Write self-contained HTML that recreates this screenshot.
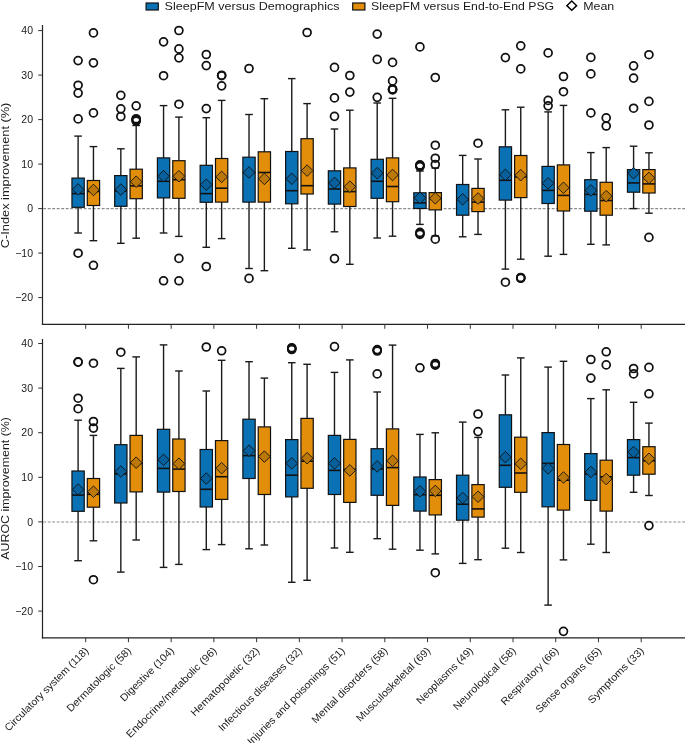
<!DOCTYPE html>
<html><head><meta charset="utf-8"><style>
html,body{margin:0;padding:0;background:#fff;}
body{width:685px;height:743px;overflow:hidden;}
svg{display:block;will-change:transform;}
text{font-family:"Liberation Sans",sans-serif;fill:#1a1a1a;}
.ax line{stroke:#222;stroke-width:1.2;}
.t{stroke:#333;stroke-width:1;}
.z{stroke:#8c8c8c;stroke-width:1.05;stroke-dasharray:2.9 1.6;}
.w{stroke:#1a1a1a;stroke-width:1.4;}
.b{stroke:#111;stroke-width:1.2;}
.m{stroke:#111;stroke-width:1.6;}
.d{stroke:#111;stroke-width:0.9;}
.o{fill:none;stroke:#111;stroke-width:1.75;}
.tl{font-size:10.5px;text-anchor:end;}
.xl{font-size:10.3px;text-anchor:end;}
.yl{font-size:11px;text-anchor:middle;}
.lg{font-size:10.8px;}
</style></head><body>
<svg width="685" height="743" viewBox="0 0 685 743">
<g class="ax">
<line x1="42.5" y1="25" x2="42.5" y2="325"/>
<line x1="41.9" y1="324.4" x2="685" y2="324.4"/>
<line x1="42.5" y1="339" x2="42.5" y2="638.4"/>
<line x1="41.9" y1="637.8" x2="685" y2="637.8"/>
</g>
<line x1="43.2" y1="208.6" x2="685" y2="208.6" class="z"/>
<line x1="43.2" y1="521.9" x2="685" y2="521.9" class="z"/>
<line x1="38.2" y1="30.6" x2="42.5" y2="30.6" class="t"/>
<text x="33" y="34.3" class="tl">40</text>
<line x1="38.2" y1="75.1" x2="42.5" y2="75.1" class="t"/>
<text x="33" y="78.8" class="tl">30</text>
<line x1="38.2" y1="119.6" x2="42.5" y2="119.6" class="t"/>
<text x="33" y="123.3" class="tl">20</text>
<line x1="38.2" y1="164.1" x2="42.5" y2="164.1" class="t"/>
<text x="33" y="167.8" class="tl">10</text>
<line x1="38.2" y1="208.6" x2="42.5" y2="208.6" class="t"/>
<text x="33" y="212.3" class="tl">0</text>
<line x1="38.2" y1="253.1" x2="42.5" y2="253.1" class="t"/>
<text x="33" y="256.8" class="tl">−10</text>
<line x1="38.2" y1="297.6" x2="42.5" y2="297.6" class="t"/>
<text x="33" y="301.3" class="tl">−20</text>
<line x1="38.2" y1="343.5" x2="42.5" y2="343.5" class="t"/>
<text x="33" y="347.2" class="tl">40</text>
<line x1="38.2" y1="388.1" x2="42.5" y2="388.1" class="t"/>
<text x="33" y="391.8" class="tl">30</text>
<line x1="38.2" y1="432.7" x2="42.5" y2="432.7" class="t"/>
<text x="33" y="436.4" class="tl">20</text>
<line x1="38.2" y1="477.3" x2="42.5" y2="477.3" class="t"/>
<text x="33" y="481" class="tl">10</text>
<line x1="38.2" y1="521.9" x2="42.5" y2="521.9" class="t"/>
<text x="33" y="525.6" class="tl">0</text>
<line x1="38.2" y1="566.5" x2="42.5" y2="566.5" class="t"/>
<text x="33" y="570.2" class="tl">−10</text>
<line x1="38.2" y1="611.1" x2="42.5" y2="611.1" class="t"/>
<text x="33" y="614.8" class="tl">−20</text>
<line x1="85.7" y1="324.4" x2="85.7" y2="328.8" class="t"/>
<line x1="85.7" y1="637.8" x2="85.7" y2="642.2" class="t"/>
<text transform="translate(89.2,651.4) rotate(-45)" class="xl" textLength="113.7" lengthAdjust="spacingAndGlyphs">Circulatory system (118)</text>
<line x1="128.43" y1="324.4" x2="128.43" y2="328.8" class="t"/>
<line x1="128.43" y1="637.8" x2="128.43" y2="642.2" class="t"/>
<text transform="translate(131.93,651.4) rotate(-45)" class="xl" textLength="86.5" lengthAdjust="spacingAndGlyphs">Dermatologic (58)</text>
<line x1="171.16" y1="324.4" x2="171.16" y2="328.8" class="t"/>
<line x1="171.16" y1="637.8" x2="171.16" y2="642.2" class="t"/>
<text transform="translate(174.66,651.4) rotate(-45)" class="xl" textLength="71.4" lengthAdjust="spacingAndGlyphs">Digestive (104)</text>
<line x1="213.89" y1="324.4" x2="213.89" y2="328.8" class="t"/>
<line x1="213.89" y1="637.8" x2="213.89" y2="642.2" class="t"/>
<text transform="translate(217.39,651.4) rotate(-45)" class="xl" textLength="123.3" lengthAdjust="spacingAndGlyphs">Endocrine/metabolic (96)</text>
<line x1="256.62" y1="324.4" x2="256.62" y2="328.8" class="t"/>
<line x1="256.62" y1="637.8" x2="256.62" y2="642.2" class="t"/>
<text transform="translate(260.12,651.4) rotate(-45)" class="xl" textLength="92.4" lengthAdjust="spacingAndGlyphs">Hematopoietic (32)</text>
<line x1="299.35" y1="324.4" x2="299.35" y2="328.8" class="t"/>
<line x1="299.35" y1="637.8" x2="299.35" y2="642.2" class="t"/>
<text transform="translate(302.85,651.4) rotate(-45)" class="xl" textLength="113.8" lengthAdjust="spacingAndGlyphs">Infectious diseases (32)</text>
<line x1="342.08" y1="324.4" x2="342.08" y2="328.8" class="t"/>
<line x1="342.08" y1="637.8" x2="342.08" y2="642.2" class="t"/>
<text transform="translate(345.58,651.4) rotate(-45)" class="xl" textLength="133.1" lengthAdjust="spacingAndGlyphs">Injuries and poisonings (51)</text>
<line x1="384.81" y1="324.4" x2="384.81" y2="328.8" class="t"/>
<line x1="384.81" y1="637.8" x2="384.81" y2="642.2" class="t"/>
<text transform="translate(388.31,651.4) rotate(-45)" class="xl" textLength="102.7" lengthAdjust="spacingAndGlyphs">Mental disorders (58)</text>
<line x1="427.54" y1="324.4" x2="427.54" y2="328.8" class="t"/>
<line x1="427.54" y1="637.8" x2="427.54" y2="642.2" class="t"/>
<text transform="translate(431.04,651.4) rotate(-45)" class="xl" textLength="100.2" lengthAdjust="spacingAndGlyphs">Musculoskeletal (69)</text>
<line x1="470.27" y1="324.4" x2="470.27" y2="328.8" class="t"/>
<line x1="470.27" y1="637.8" x2="470.27" y2="642.2" class="t"/>
<text transform="translate(473.77,651.4) rotate(-45)" class="xl" textLength="75.3" lengthAdjust="spacingAndGlyphs">Neoplasms (49)</text>
<line x1="513" y1="324.4" x2="513" y2="328.8" class="t"/>
<line x1="513" y1="637.8" x2="513" y2="642.2" class="t"/>
<text transform="translate(516.5,651.4) rotate(-45)" class="xl" textLength="83.9" lengthAdjust="spacingAndGlyphs">Neurological (58)</text>
<line x1="555.73" y1="324.4" x2="555.73" y2="328.8" class="t"/>
<line x1="555.73" y1="637.8" x2="555.73" y2="642.2" class="t"/>
<text transform="translate(559.23,651.4) rotate(-45)" class="xl" textLength="76.7" lengthAdjust="spacingAndGlyphs">Respiratory (66)</text>
<line x1="598.46" y1="324.4" x2="598.46" y2="328.8" class="t"/>
<line x1="598.46" y1="637.8" x2="598.46" y2="642.2" class="t"/>
<text transform="translate(601.96,651.4) rotate(-45)" class="xl" textLength="87.9" lengthAdjust="spacingAndGlyphs">Sense organs (65)</text>
<line x1="641.19" y1="324.4" x2="641.19" y2="328.8" class="t"/>
<line x1="641.19" y1="637.8" x2="641.19" y2="642.2" class="t"/>
<text transform="translate(644.69,651.4) rotate(-45)" class="xl" textLength="74.6" lengthAdjust="spacingAndGlyphs">Symptoms (33)</text>
<line x1="78.1" y1="136.1" x2="78.1" y2="178.1" class="w"/>
<line x1="78.1" y1="207.3" x2="78.1" y2="233" class="w"/>
<line x1="74.3" y1="136.1" x2="81.9" y2="136.1" class="w"/>
<line x1="74.3" y1="233" x2="81.9" y2="233" class="w"/>
<rect x="71.95" y="178.1" width="12.3" height="29.2" fill="#0a71b5" class="b"/>
<line x1="71.95" y1="193.6" x2="84.25" y2="193.6" class="m"/>
<path d="M78.1 183.6L83.9 189.4L78.1 195.2L72.3 189.4Z" fill="#07609c" class="d"/>
<circle cx="78.1" cy="60.6" r="3.95" class="o"/>
<circle cx="78.1" cy="85.2" r="3.95" class="o"/>
<circle cx="78.1" cy="93.1" r="3.95" class="o"/>
<circle cx="78.1" cy="118.9" r="3.95" class="o"/>
<circle cx="78.1" cy="253.2" r="3.95" class="o"/>
<line x1="93.45" y1="146.6" x2="93.45" y2="180.5" class="w"/>
<line x1="93.45" y1="205.5" x2="93.45" y2="240.7" class="w"/>
<line x1="89.65" y1="146.6" x2="97.25" y2="146.6" class="w"/>
<line x1="89.65" y1="240.7" x2="97.25" y2="240.7" class="w"/>
<rect x="87.3" y="180.5" width="12.3" height="25" fill="#e38e0b" class="b"/>
<line x1="87.3" y1="191.4" x2="99.6" y2="191.4" class="m"/>
<path d="M93.45 184.2L99.25 190L93.45 195.8L87.65 190Z" fill="#bb7808" class="d"/>
<circle cx="93.45" cy="32.9" r="3.95" class="o"/>
<circle cx="93.45" cy="62.8" r="3.95" class="o"/>
<circle cx="93.45" cy="112.9" r="3.95" class="o"/>
<circle cx="93.45" cy="265.3" r="3.95" class="o"/>
<line x1="120.83" y1="148.8" x2="120.83" y2="175.6" class="w"/>
<line x1="120.83" y1="206.3" x2="120.83" y2="243.3" class="w"/>
<line x1="117.03" y1="148.8" x2="124.63" y2="148.8" class="w"/>
<line x1="117.03" y1="243.3" x2="124.63" y2="243.3" class="w"/>
<rect x="114.68" y="175.6" width="12.3" height="30.7" fill="#0a71b5" class="b"/>
<line x1="114.68" y1="191" x2="126.98" y2="191" class="m"/>
<path d="M120.83 183.8L126.63 189.6L120.83 195.4L115.03 189.6Z" fill="#07609c" class="d"/>
<circle cx="120.83" cy="95.3" r="3.95" class="o"/>
<circle cx="120.83" cy="108.8" r="3.95" class="o"/>
<circle cx="120.83" cy="116.5" r="3.95" class="o"/>
<line x1="136.18" y1="125.5" x2="136.18" y2="169.2" class="w"/>
<line x1="136.18" y1="198.7" x2="136.18" y2="238.2" class="w"/>
<line x1="132.38" y1="125.5" x2="139.98" y2="125.5" class="w"/>
<line x1="132.38" y1="238.2" x2="139.98" y2="238.2" class="w"/>
<rect x="130.03" y="169.2" width="12.3" height="29.5" fill="#e38e0b" class="b"/>
<line x1="130.03" y1="185.9" x2="142.33" y2="185.9" class="m"/>
<path d="M136.18 175.9L141.98 181.7L136.18 187.5L130.38 181.7Z" fill="#bb7808" class="d"/>
<circle cx="136.18" cy="105.8" r="3.95" class="o"/>
<circle cx="136.18" cy="118.7" r="3.95" class="o"/>
<circle cx="136.18" cy="119.5" r="3.95" class="o"/>
<circle cx="136.18" cy="120.3" r="3.95" class="o"/>
<circle cx="136.18" cy="121" r="3.95" class="o"/>
<line x1="163.56" y1="105.6" x2="163.56" y2="157.9" class="w"/>
<line x1="163.56" y1="197.9" x2="163.56" y2="233" class="w"/>
<line x1="159.76" y1="105.6" x2="167.36" y2="105.6" class="w"/>
<line x1="159.76" y1="233" x2="167.36" y2="233" class="w"/>
<rect x="157.41" y="157.9" width="12.3" height="40" fill="#0a71b5" class="b"/>
<line x1="157.41" y1="181.3" x2="169.71" y2="181.3" class="m"/>
<path d="M163.56 170.4L169.36 176.2L163.56 182L157.76 176.2Z" fill="#07609c" class="d"/>
<circle cx="163.56" cy="41.8" r="3.95" class="o"/>
<circle cx="163.56" cy="75.7" r="3.95" class="o"/>
<circle cx="163.56" cy="280.8" r="3.95" class="o"/>
<line x1="178.91" y1="117.1" x2="178.91" y2="160.7" class="w"/>
<line x1="178.91" y1="198.3" x2="178.91" y2="236.4" class="w"/>
<line x1="175.11" y1="117.1" x2="182.71" y2="117.1" class="w"/>
<line x1="175.11" y1="236.4" x2="182.71" y2="236.4" class="w"/>
<rect x="172.76" y="160.7" width="12.3" height="37.6" fill="#e38e0b" class="b"/>
<line x1="172.76" y1="179.7" x2="185.06" y2="179.7" class="m"/>
<path d="M178.91 170.4L184.71 176.2L178.91 182L173.11 176.2Z" fill="#bb7808" class="d"/>
<circle cx="178.91" cy="30.5" r="3.95" class="o"/>
<circle cx="178.91" cy="48.9" r="3.95" class="o"/>
<circle cx="178.91" cy="57.8" r="3.95" class="o"/>
<circle cx="178.91" cy="104.2" r="3.95" class="o"/>
<circle cx="178.91" cy="258.4" r="3.95" class="o"/>
<circle cx="178.91" cy="280.8" r="3.95" class="o"/>
<line x1="206.29" y1="117.7" x2="206.29" y2="165.3" class="w"/>
<line x1="206.29" y1="202.3" x2="206.29" y2="247.3" class="w"/>
<line x1="202.49" y1="117.7" x2="210.09" y2="117.7" class="w"/>
<line x1="202.49" y1="247.3" x2="210.09" y2="247.3" class="w"/>
<rect x="200.14" y="165.3" width="12.3" height="37" fill="#0a71b5" class="b"/>
<line x1="200.14" y1="193.6" x2="212.44" y2="193.6" class="m"/>
<path d="M206.29 178.9L212.09 184.7L206.29 190.5L200.49 184.7Z" fill="#07609c" class="d"/>
<circle cx="206.29" cy="54.5" r="3.95" class="o"/>
<circle cx="206.29" cy="65.6" r="3.95" class="o"/>
<circle cx="206.29" cy="108.6" r="3.95" class="o"/>
<circle cx="206.29" cy="266.5" r="3.95" class="o"/>
<line x1="221.64" y1="100.4" x2="221.64" y2="158.5" class="w"/>
<line x1="221.64" y1="202.1" x2="221.64" y2="238.6" class="w"/>
<line x1="217.84" y1="100.4" x2="225.44" y2="100.4" class="w"/>
<line x1="217.84" y1="238.6" x2="225.44" y2="238.6" class="w"/>
<rect x="215.49" y="158.5" width="12.3" height="43.6" fill="#e38e0b" class="b"/>
<line x1="215.49" y1="188.2" x2="227.79" y2="188.2" class="m"/>
<path d="M221.64 171.1L227.44 176.9L221.64 182.7L215.84 176.9Z" fill="#bb7808" class="d"/>
<circle cx="221.64" cy="75.2" r="3.95" class="o"/>
<circle cx="221.64" cy="75.7" r="3.95" class="o"/>
<circle cx="221.64" cy="85.8" r="3.95" class="o"/>
<line x1="249.02" y1="114.5" x2="249.02" y2="157.2" class="w"/>
<line x1="249.02" y1="202.1" x2="249.02" y2="268.5" class="w"/>
<line x1="245.22" y1="114.5" x2="252.82" y2="114.5" class="w"/>
<line x1="245.22" y1="268.5" x2="252.82" y2="268.5" class="w"/>
<rect x="242.87" y="157.2" width="12.3" height="44.9" fill="#0a71b5" class="b"/>
<line x1="242.87" y1="172.5" x2="255.17" y2="172.5" class="m"/>
<path d="M249.02 166.7L254.82 172.5L249.02 178.3L243.22 172.5Z" fill="#07609c" class="d"/>
<circle cx="249.02" cy="68.5" r="3.95" class="o"/>
<circle cx="249.02" cy="278.4" r="3.95" class="o"/>
<line x1="264.37" y1="98.7" x2="264.37" y2="151.8" class="w"/>
<line x1="264.37" y1="202.1" x2="264.37" y2="270.7" class="w"/>
<line x1="260.57" y1="98.7" x2="268.17" y2="98.7" class="w"/>
<line x1="260.57" y1="270.7" x2="268.17" y2="270.7" class="w"/>
<rect x="258.22" y="151.8" width="12.3" height="50.3" fill="#e38e0b" class="b"/>
<line x1="258.22" y1="172.5" x2="270.52" y2="172.5" class="m"/>
<path d="M264.37 173.1L270.17 178.9L264.37 184.7L258.57 178.9Z" fill="#bb7808" class="d"/>
<line x1="291.75" y1="78.6" x2="291.75" y2="151.5" class="w"/>
<line x1="291.75" y1="203.8" x2="291.75" y2="248.3" class="w"/>
<line x1="287.95" y1="78.6" x2="295.55" y2="78.6" class="w"/>
<line x1="287.95" y1="248.3" x2="295.55" y2="248.3" class="w"/>
<rect x="285.6" y="151.5" width="12.3" height="52.3" fill="#0a71b5" class="b"/>
<line x1="285.6" y1="190.7" x2="297.9" y2="190.7" class="m"/>
<path d="M291.75 173L297.55 178.8L291.75 184.6L285.95 178.8Z" fill="#07609c" class="d"/>
<line x1="307.1" y1="103.6" x2="307.1" y2="138.7" class="w"/>
<line x1="307.1" y1="194" x2="307.1" y2="249.9" class="w"/>
<line x1="303.3" y1="103.6" x2="310.9" y2="103.6" class="w"/>
<line x1="303.3" y1="249.9" x2="310.9" y2="249.9" class="w"/>
<rect x="300.95" y="138.7" width="12.3" height="55.3" fill="#e38e0b" class="b"/>
<line x1="300.95" y1="185.7" x2="313.25" y2="185.7" class="m"/>
<path d="M307.1 164.8L312.9 170.6L307.1 176.4L301.3 170.6Z" fill="#bb7808" class="d"/>
<circle cx="307.1" cy="32.5" r="3.95" class="o"/>
<line x1="334.48" y1="129" x2="334.48" y2="170.8" class="w"/>
<line x1="334.48" y1="204.1" x2="334.48" y2="231.8" class="w"/>
<line x1="330.68" y1="129" x2="338.28" y2="129" class="w"/>
<line x1="330.68" y1="231.8" x2="338.28" y2="231.8" class="w"/>
<rect x="328.33" y="170.8" width="12.3" height="33.3" fill="#0a71b5" class="b"/>
<line x1="328.33" y1="189" x2="340.63" y2="189" class="m"/>
<path d="M334.48 177.1L340.28 182.9L334.48 188.7L328.68 182.9Z" fill="#07609c" class="d"/>
<circle cx="334.48" cy="67.4" r="3.95" class="o"/>
<circle cx="334.48" cy="97.9" r="3.95" class="o"/>
<circle cx="334.48" cy="116.3" r="3.95" class="o"/>
<circle cx="334.48" cy="258.6" r="3.95" class="o"/>
<line x1="349.83" y1="110.2" x2="349.83" y2="167.9" class="w"/>
<line x1="349.83" y1="206.5" x2="349.83" y2="264.3" class="w"/>
<line x1="346.03" y1="110.2" x2="353.63" y2="110.2" class="w"/>
<line x1="346.03" y1="264.3" x2="353.63" y2="264.3" class="w"/>
<rect x="343.68" y="167.9" width="12.3" height="38.6" fill="#e38e0b" class="b"/>
<line x1="343.68" y1="191.6" x2="355.98" y2="191.6" class="m"/>
<path d="M349.83 180.9L355.63 186.7L349.83 192.5L344.03 186.7Z" fill="#bb7808" class="d"/>
<circle cx="349.83" cy="75.5" r="3.95" class="o"/>
<circle cx="349.83" cy="92.1" r="3.95" class="o"/>
<line x1="377.21" y1="103" x2="377.21" y2="159.3" class="w"/>
<line x1="377.21" y1="198.3" x2="377.21" y2="238" class="w"/>
<line x1="373.41" y1="103" x2="381.01" y2="103" class="w"/>
<line x1="373.41" y1="238" x2="381.01" y2="238" class="w"/>
<rect x="371.06" y="159.3" width="12.3" height="39" fill="#0a71b5" class="b"/>
<line x1="371.06" y1="181.3" x2="383.36" y2="181.3" class="m"/>
<path d="M377.21 167.4L383.01 173.2L377.21 179L371.41 173.2Z" fill="#07609c" class="d"/>
<circle cx="377.21" cy="34.1" r="3.95" class="o"/>
<circle cx="377.21" cy="59.4" r="3.95" class="o"/>
<circle cx="377.21" cy="97.3" r="3.95" class="o"/>
<line x1="392.56" y1="98.3" x2="392.56" y2="157.9" class="w"/>
<line x1="392.56" y1="201.7" x2="392.56" y2="236.2" class="w"/>
<line x1="388.76" y1="98.3" x2="396.36" y2="98.3" class="w"/>
<line x1="388.76" y1="236.2" x2="396.36" y2="236.2" class="w"/>
<rect x="386.41" y="157.9" width="12.3" height="43.8" fill="#e38e0b" class="b"/>
<line x1="386.41" y1="186.5" x2="398.71" y2="186.5" class="m"/>
<path d="M392.56 169.2L398.36 175L392.56 180.8L386.76 175Z" fill="#bb7808" class="d"/>
<circle cx="392.56" cy="62.4" r="3.95" class="o"/>
<circle cx="392.56" cy="80.9" r="3.95" class="o"/>
<circle cx="392.56" cy="88.9" r="3.95" class="o"/>
<circle cx="392.56" cy="89.4" r="3.95" class="o"/>
<circle cx="392.56" cy="89.9" r="3.95" class="o"/>
<line x1="419.94" y1="171" x2="419.94" y2="192.8" class="w"/>
<line x1="419.94" y1="208.5" x2="419.94" y2="224.4" class="w"/>
<line x1="416.14" y1="171" x2="423.74" y2="171" class="w"/>
<line x1="416.14" y1="224.4" x2="423.74" y2="224.4" class="w"/>
<rect x="413.79" y="192.8" width="12.3" height="15.7" fill="#0a71b5" class="b"/>
<line x1="413.79" y1="202.9" x2="426.09" y2="202.9" class="m"/>
<path d="M419.94 192L425.74 197.8L419.94 203.6L414.14 197.8Z" fill="#07609c" class="d"/>
<circle cx="419.94" cy="46.9" r="3.95" class="o"/>
<circle cx="419.94" cy="164.9" r="3.95" class="o"/>
<circle cx="419.94" cy="165.5" r="3.95" class="o"/>
<circle cx="419.94" cy="166" r="3.95" class="o"/>
<circle cx="419.94" cy="166.6" r="3.95" class="o"/>
<circle cx="419.94" cy="232.4" r="3.95" class="o"/>
<circle cx="419.94" cy="233.4" r="3.95" class="o"/>
<circle cx="419.94" cy="234.3" r="3.95" class="o"/>
<line x1="435.29" y1="168" x2="435.29" y2="192.6" class="w"/>
<line x1="435.29" y1="209.9" x2="435.29" y2="236" class="w"/>
<line x1="431.49" y1="168" x2="439.09" y2="168" class="w"/>
<line x1="431.49" y1="236" x2="439.09" y2="236" class="w"/>
<rect x="429.14" y="192.6" width="12.3" height="17.3" fill="#e38e0b" class="b"/>
<line x1="429.14" y1="198.5" x2="441.44" y2="198.5" class="m"/>
<path d="M435.29 192.5L441.09 198.3L435.29 204.1L429.49 198.3Z" fill="#bb7808" class="d"/>
<circle cx="435.29" cy="77.5" r="3.95" class="o"/>
<circle cx="435.29" cy="145.2" r="3.95" class="o"/>
<circle cx="435.29" cy="158.2" r="3.95" class="o"/>
<circle cx="435.29" cy="164.5" r="3.95" class="o"/>
<circle cx="435.29" cy="239.2" r="3.95" class="o"/>
<line x1="462.67" y1="155.4" x2="462.67" y2="184.5" class="w"/>
<line x1="462.67" y1="215.2" x2="462.67" y2="236.8" class="w"/>
<line x1="458.87" y1="155.4" x2="466.47" y2="155.4" class="w"/>
<line x1="458.87" y1="236.8" x2="466.47" y2="236.8" class="w"/>
<rect x="456.52" y="184.5" width="12.3" height="30.7" fill="#0a71b5" class="b"/>
<line x1="456.52" y1="199.3" x2="468.82" y2="199.3" class="m"/>
<path d="M462.67 193.5L468.47 199.3L462.67 205.1L456.87 199.3Z" fill="#07609c" class="d"/>
<line x1="478.02" y1="159" x2="478.02" y2="188.4" class="w"/>
<line x1="478.02" y1="211.6" x2="478.02" y2="234.4" class="w"/>
<line x1="474.22" y1="159" x2="481.82" y2="159" class="w"/>
<line x1="474.22" y1="234.4" x2="481.82" y2="234.4" class="w"/>
<rect x="471.87" y="188.4" width="12.3" height="23.2" fill="#e38e0b" class="b"/>
<line x1="471.87" y1="202.1" x2="484.17" y2="202.1" class="m"/>
<path d="M478.02 192.7L483.82 198.5L478.02 204.3L472.22 198.5Z" fill="#bb7808" class="d"/>
<circle cx="478.02" cy="143.2" r="3.95" class="o"/>
<line x1="505.4" y1="109.8" x2="505.4" y2="146.8" class="w"/>
<line x1="505.4" y1="200.1" x2="505.4" y2="269.1" class="w"/>
<line x1="501.6" y1="109.8" x2="509.2" y2="109.8" class="w"/>
<line x1="501.6" y1="269.1" x2="509.2" y2="269.1" class="w"/>
<rect x="499.25" y="146.8" width="12.3" height="53.3" fill="#0a71b5" class="b"/>
<line x1="499.25" y1="180.3" x2="511.55" y2="180.3" class="m"/>
<path d="M505.4 169L511.2 174.8L505.4 180.6L499.6 174.8Z" fill="#07609c" class="d"/>
<circle cx="505.4" cy="57.6" r="3.95" class="o"/>
<circle cx="505.4" cy="282.2" r="3.95" class="o"/>
<line x1="520.75" y1="107.2" x2="520.75" y2="155.5" class="w"/>
<line x1="520.75" y1="197.6" x2="520.75" y2="259.2" class="w"/>
<line x1="516.95" y1="107.2" x2="524.55" y2="107.2" class="w"/>
<line x1="516.95" y1="259.2" x2="524.55" y2="259.2" class="w"/>
<rect x="514.6" y="155.5" width="12.3" height="42.1" fill="#e38e0b" class="b"/>
<line x1="514.6" y1="176.9" x2="526.9" y2="176.9" class="m"/>
<path d="M520.75 169.4L526.55 175.2L520.75 181L514.95 175.2Z" fill="#bb7808" class="d"/>
<circle cx="520.75" cy="45.8" r="3.95" class="o"/>
<circle cx="520.75" cy="68.9" r="3.95" class="o"/>
<circle cx="520.75" cy="277.5" r="3.95" class="o"/>
<circle cx="520.75" cy="277.9" r="3.95" class="o"/>
<circle cx="520.75" cy="278.3" r="3.95" class="o"/>
<line x1="548.13" y1="111.9" x2="548.13" y2="166.4" class="w"/>
<line x1="548.13" y1="203.5" x2="548.13" y2="256.2" class="w"/>
<line x1="544.33" y1="111.9" x2="551.93" y2="111.9" class="w"/>
<line x1="544.33" y1="256.2" x2="551.93" y2="256.2" class="w"/>
<rect x="541.98" y="166.4" width="12.3" height="37.1" fill="#0a71b5" class="b"/>
<line x1="541.98" y1="190.4" x2="554.28" y2="190.4" class="m"/>
<path d="M548.13 177.5L553.93 183.3L548.13 189.1L542.33 183.3Z" fill="#07609c" class="d"/>
<circle cx="548.13" cy="52.9" r="3.95" class="o"/>
<circle cx="548.13" cy="100.4" r="3.95" class="o"/>
<circle cx="548.13" cy="105.8" r="3.95" class="o"/>
<line x1="563.48" y1="105.4" x2="563.48" y2="164.9" class="w"/>
<line x1="563.48" y1="211" x2="563.48" y2="254.4" class="w"/>
<line x1="559.68" y1="105.4" x2="567.28" y2="105.4" class="w"/>
<line x1="559.68" y1="254.4" x2="567.28" y2="254.4" class="w"/>
<rect x="557.33" y="164.9" width="12.3" height="46.1" fill="#e38e0b" class="b"/>
<line x1="557.33" y1="195.4" x2="569.63" y2="195.4" class="m"/>
<path d="M563.48 182L569.28 187.8L563.48 193.6L557.68 187.8Z" fill="#bb7808" class="d"/>
<circle cx="563.48" cy="76.5" r="3.95" class="o"/>
<circle cx="563.48" cy="91.7" r="3.95" class="o"/>
<line x1="590.86" y1="152.6" x2="590.86" y2="179.7" class="w"/>
<line x1="590.86" y1="211.2" x2="590.86" y2="244.3" class="w"/>
<line x1="587.06" y1="152.6" x2="594.66" y2="152.6" class="w"/>
<line x1="587.06" y1="244.3" x2="594.66" y2="244.3" class="w"/>
<rect x="584.71" y="179.7" width="12.3" height="31.5" fill="#0a71b5" class="b"/>
<line x1="584.71" y1="194.4" x2="597.01" y2="194.4" class="m"/>
<path d="M590.86 184.6L596.66 190.4L590.86 196.2L585.06 190.4Z" fill="#07609c" class="d"/>
<circle cx="590.86" cy="57.4" r="3.95" class="o"/>
<circle cx="590.86" cy="73.9" r="3.95" class="o"/>
<circle cx="590.86" cy="112.9" r="3.95" class="o"/>
<line x1="606.21" y1="147.6" x2="606.21" y2="182.3" class="w"/>
<line x1="606.21" y1="215.2" x2="606.21" y2="244.9" class="w"/>
<line x1="602.41" y1="147.6" x2="610.01" y2="147.6" class="w"/>
<line x1="602.41" y1="244.9" x2="610.01" y2="244.9" class="w"/>
<rect x="600.06" y="182.3" width="12.3" height="32.9" fill="#e38e0b" class="b"/>
<line x1="600.06" y1="200.5" x2="612.36" y2="200.5" class="m"/>
<path d="M606.21 190.4L612.01 196.2L606.21 202L600.41 196.2Z" fill="#bb7808" class="d"/>
<circle cx="606.21" cy="117.9" r="3.95" class="o"/>
<circle cx="606.21" cy="126" r="3.95" class="o"/>
<line x1="633.59" y1="146.2" x2="633.59" y2="169.6" class="w"/>
<line x1="633.59" y1="192.2" x2="633.59" y2="208.6" class="w"/>
<line x1="629.79" y1="146.2" x2="637.39" y2="146.2" class="w"/>
<line x1="629.79" y1="208.6" x2="637.39" y2="208.6" class="w"/>
<rect x="627.44" y="169.6" width="12.3" height="22.6" fill="#0a71b5" class="b"/>
<line x1="627.44" y1="182.9" x2="639.74" y2="182.9" class="m"/>
<path d="M633.59 167.4L639.39 173.2L633.59 179L627.79 173.2Z" fill="#07609c" class="d"/>
<circle cx="633.59" cy="65.8" r="3.95" class="o"/>
<circle cx="633.59" cy="78.1" r="3.95" class="o"/>
<circle cx="633.59" cy="108.2" r="3.95" class="o"/>
<line x1="648.94" y1="152.8" x2="648.94" y2="169.6" class="w"/>
<line x1="648.94" y1="193" x2="648.94" y2="213.2" class="w"/>
<line x1="645.14" y1="152.8" x2="652.74" y2="152.8" class="w"/>
<line x1="645.14" y1="213.2" x2="652.74" y2="213.2" class="w"/>
<rect x="642.79" y="169.6" width="12.3" height="23.4" fill="#e38e0b" class="b"/>
<line x1="642.79" y1="183.9" x2="655.09" y2="183.9" class="m"/>
<path d="M648.94 172.1L654.74 177.9L648.94 183.7L643.14 177.9Z" fill="#bb7808" class="d"/>
<circle cx="648.94" cy="54.7" r="3.95" class="o"/>
<circle cx="648.94" cy="101.4" r="3.95" class="o"/>
<circle cx="648.94" cy="125" r="3.95" class="o"/>
<circle cx="648.94" cy="237.4" r="3.95" class="o"/>
<line x1="78.1" y1="420.2" x2="78.1" y2="471" class="w"/>
<line x1="78.1" y1="511.3" x2="78.1" y2="560.7" class="w"/>
<line x1="74.3" y1="420.2" x2="81.9" y2="420.2" class="w"/>
<line x1="74.3" y1="560.7" x2="81.9" y2="560.7" class="w"/>
<rect x="71.95" y="471" width="12.3" height="40.3" fill="#0a71b5" class="b"/>
<line x1="71.95" y1="495.1" x2="84.25" y2="495.1" class="m"/>
<path d="M78.1 483.7L83.9 489.5L78.1 495.3L72.3 489.5Z" fill="#07609c" class="d"/>
<circle cx="78.1" cy="361.9" r="3.95" class="o"/>
<circle cx="78.1" cy="362.1" r="3.95" class="o"/>
<circle cx="78.1" cy="398.2" r="3.95" class="o"/>
<circle cx="78.1" cy="408.7" r="3.95" class="o"/>
<line x1="93.45" y1="435.4" x2="93.45" y2="478.5" class="w"/>
<line x1="93.45" y1="507.2" x2="93.45" y2="540.8" class="w"/>
<line x1="89.65" y1="435.4" x2="97.25" y2="435.4" class="w"/>
<line x1="89.65" y1="540.8" x2="97.25" y2="540.8" class="w"/>
<rect x="87.3" y="478.5" width="12.3" height="28.7" fill="#e38e0b" class="b"/>
<line x1="87.3" y1="494.3" x2="99.6" y2="494.3" class="m"/>
<path d="M93.45 485.9L99.25 491.7L93.45 497.5L87.65 491.7Z" fill="#bb7808" class="d"/>
<circle cx="93.45" cy="363.2" r="3.95" class="o"/>
<circle cx="93.45" cy="421.5" r="3.95" class="o"/>
<circle cx="93.45" cy="428.1" r="3.95" class="o"/>
<circle cx="93.45" cy="579.7" r="3.95" class="o"/>
<line x1="120.83" y1="368.4" x2="120.83" y2="444.7" class="w"/>
<line x1="120.83" y1="503" x2="120.83" y2="572.1" class="w"/>
<line x1="117.03" y1="368.4" x2="124.63" y2="368.4" class="w"/>
<line x1="117.03" y1="572.1" x2="124.63" y2="572.1" class="w"/>
<rect x="114.68" y="444.7" width="12.3" height="58.3" fill="#0a71b5" class="b"/>
<line x1="114.68" y1="474" x2="126.98" y2="474" class="m"/>
<path d="M120.83 465.7L126.63 471.5L120.83 477.3L115.03 471.5Z" fill="#07609c" class="d"/>
<circle cx="120.83" cy="352.2" r="3.95" class="o"/>
<line x1="136.18" y1="356.9" x2="136.18" y2="435.4" class="w"/>
<line x1="136.18" y1="491.9" x2="136.18" y2="540" class="w"/>
<line x1="132.38" y1="356.9" x2="139.98" y2="356.9" class="w"/>
<line x1="132.38" y1="540" x2="139.98" y2="540" class="w"/>
<rect x="130.03" y="435.4" width="12.3" height="56.5" fill="#e38e0b" class="b"/>
<line x1="130.03" y1="463.4" x2="142.33" y2="463.4" class="m"/>
<path d="M136.18 456.9L141.98 462.7L136.18 468.5L130.38 462.7Z" fill="#bb7808" class="d"/>
<line x1="163.56" y1="344.9" x2="163.56" y2="429.3" class="w"/>
<line x1="163.56" y1="492.1" x2="163.56" y2="567.4" class="w"/>
<line x1="159.76" y1="344.9" x2="167.36" y2="344.9" class="w"/>
<line x1="159.76" y1="567.4" x2="167.36" y2="567.4" class="w"/>
<rect x="157.41" y="429.3" width="12.3" height="62.8" fill="#0a71b5" class="b"/>
<line x1="157.41" y1="468.4" x2="169.71" y2="468.4" class="m"/>
<path d="M163.56 454L169.36 459.8L163.56 465.6L157.76 459.8Z" fill="#07609c" class="d"/>
<line x1="178.91" y1="371" x2="178.91" y2="439" class="w"/>
<line x1="178.91" y1="491.5" x2="178.91" y2="564.4" class="w"/>
<line x1="175.11" y1="371" x2="182.71" y2="371" class="w"/>
<line x1="175.11" y1="564.4" x2="182.71" y2="564.4" class="w"/>
<rect x="172.76" y="439" width="12.3" height="52.5" fill="#e38e0b" class="b"/>
<line x1="172.76" y1="469.1" x2="185.06" y2="469.1" class="m"/>
<path d="M178.91 457.9L184.71 463.7L178.91 469.5L173.11 463.7Z" fill="#bb7808" class="d"/>
<line x1="206.29" y1="391" x2="206.29" y2="449.5" class="w"/>
<line x1="206.29" y1="507" x2="206.29" y2="549.6" class="w"/>
<line x1="202.49" y1="391" x2="210.09" y2="391" class="w"/>
<line x1="202.49" y1="549.6" x2="210.09" y2="549.6" class="w"/>
<rect x="200.14" y="449.5" width="12.3" height="57.5" fill="#0a71b5" class="b"/>
<line x1="200.14" y1="489.3" x2="212.44" y2="489.3" class="m"/>
<path d="M206.29 472.7L212.09 478.5L206.29 484.3L200.49 478.5Z" fill="#07609c" class="d"/>
<circle cx="206.29" cy="347" r="3.95" class="o"/>
<line x1="221.64" y1="360.3" x2="221.64" y2="440.6" class="w"/>
<line x1="221.64" y1="499.4" x2="221.64" y2="544.6" class="w"/>
<line x1="217.84" y1="360.3" x2="225.44" y2="360.3" class="w"/>
<line x1="217.84" y1="544.6" x2="225.44" y2="544.6" class="w"/>
<rect x="215.49" y="440.6" width="12.3" height="58.8" fill="#e38e0b" class="b"/>
<line x1="215.49" y1="476.7" x2="227.79" y2="476.7" class="m"/>
<path d="M221.64 462.4L227.44 468.2L221.64 474L215.84 468.2Z" fill="#bb7808" class="d"/>
<circle cx="221.64" cy="350.8" r="3.95" class="o"/>
<line x1="249.02" y1="361.7" x2="249.02" y2="419.2" class="w"/>
<line x1="249.02" y1="478.5" x2="249.02" y2="548.8" class="w"/>
<line x1="245.22" y1="361.7" x2="252.82" y2="361.7" class="w"/>
<line x1="245.22" y1="548.8" x2="252.82" y2="548.8" class="w"/>
<rect x="242.87" y="419.2" width="12.3" height="59.3" fill="#0a71b5" class="b"/>
<line x1="242.87" y1="455.6" x2="255.17" y2="455.6" class="m"/>
<path d="M249.02 444.9L254.82 450.7L249.02 456.5L243.22 450.7Z" fill="#07609c" class="d"/>
<line x1="264.37" y1="378.1" x2="264.37" y2="426.9" class="w"/>
<line x1="264.37" y1="494.5" x2="264.37" y2="545" class="w"/>
<line x1="260.57" y1="378.1" x2="268.17" y2="378.1" class="w"/>
<line x1="260.57" y1="545" x2="268.17" y2="545" class="w"/>
<rect x="258.22" y="426.9" width="12.3" height="67.6" fill="#e38e0b" class="b"/>
<line x1="258.22" y1="456.6" x2="270.52" y2="456.6" class="m"/>
<path d="M264.37 450.8L270.17 456.6L264.37 462.4L258.57 456.6Z" fill="#bb7808" class="d"/>
<line x1="291.75" y1="362.7" x2="291.75" y2="439.6" class="w"/>
<line x1="291.75" y1="496.9" x2="291.75" y2="582.3" class="w"/>
<line x1="287.95" y1="362.7" x2="295.55" y2="362.7" class="w"/>
<line x1="287.95" y1="582.3" x2="295.55" y2="582.3" class="w"/>
<rect x="285.6" y="439.6" width="12.3" height="57.3" fill="#0a71b5" class="b"/>
<line x1="285.6" y1="475.2" x2="297.9" y2="475.2" class="m"/>
<path d="M291.75 457.5L297.55 463.3L291.75 469.1L285.95 463.3Z" fill="#07609c" class="d"/>
<circle cx="291.75" cy="347.7" r="3.95" class="o"/>
<circle cx="291.75" cy="348.3" r="3.95" class="o"/>
<circle cx="291.75" cy="348.9" r="3.95" class="o"/>
<circle cx="291.75" cy="349.5" r="3.95" class="o"/>
<line x1="307.1" y1="364.3" x2="307.1" y2="418.4" class="w"/>
<line x1="307.1" y1="488.3" x2="307.1" y2="580.3" class="w"/>
<line x1="303.3" y1="364.3" x2="310.9" y2="364.3" class="w"/>
<line x1="303.3" y1="580.3" x2="310.9" y2="580.3" class="w"/>
<rect x="300.95" y="418.4" width="12.3" height="69.9" fill="#e38e0b" class="b"/>
<line x1="300.95" y1="461.2" x2="313.25" y2="461.2" class="m"/>
<path d="M307.1 452.4L312.9 458.2L307.1 464L301.3 458.2Z" fill="#bb7808" class="d"/>
<line x1="334.48" y1="372.4" x2="334.48" y2="435.4" class="w"/>
<line x1="334.48" y1="494.5" x2="334.48" y2="548" class="w"/>
<line x1="330.68" y1="372.4" x2="338.28" y2="372.4" class="w"/>
<line x1="330.68" y1="548" x2="338.28" y2="548" class="w"/>
<rect x="328.33" y="435.4" width="12.3" height="59.1" fill="#0a71b5" class="b"/>
<line x1="328.33" y1="470.4" x2="340.63" y2="470.4" class="m"/>
<path d="M334.48 457.6L340.28 463.4L334.48 469.2L328.68 463.4Z" fill="#07609c" class="d"/>
<circle cx="334.48" cy="346.6" r="3.95" class="o"/>
<line x1="349.83" y1="359.9" x2="349.83" y2="439.4" class="w"/>
<line x1="349.83" y1="502.4" x2="349.83" y2="552.3" class="w"/>
<line x1="346.03" y1="359.9" x2="353.63" y2="359.9" class="w"/>
<line x1="346.03" y1="552.3" x2="353.63" y2="552.3" class="w"/>
<rect x="343.68" y="439.4" width="12.3" height="63" fill="#e38e0b" class="b"/>
<line x1="343.68" y1="469.5" x2="355.98" y2="469.5" class="m"/>
<path d="M349.83 464.6L355.63 470.4L349.83 476.2L344.03 470.4Z" fill="#bb7808" class="d"/>
<line x1="377.21" y1="392" x2="377.21" y2="448.7" class="w"/>
<line x1="377.21" y1="495.3" x2="377.21" y2="538.7" class="w"/>
<line x1="373.41" y1="392" x2="381.01" y2="392" class="w"/>
<line x1="373.41" y1="538.7" x2="381.01" y2="538.7" class="w"/>
<rect x="371.06" y="448.7" width="12.3" height="46.6" fill="#0a71b5" class="b"/>
<line x1="371.06" y1="469" x2="383.36" y2="469" class="m"/>
<path d="M377.21 460.6L383.01 466.4L377.21 472.2L371.41 466.4Z" fill="#07609c" class="d"/>
<circle cx="377.21" cy="349.6" r="3.95" class="o"/>
<circle cx="377.21" cy="350.3" r="3.95" class="o"/>
<circle cx="377.21" cy="351" r="3.95" class="o"/>
<circle cx="377.21" cy="373.9" r="3.95" class="o"/>
<line x1="392.56" y1="345.1" x2="392.56" y2="428.9" class="w"/>
<line x1="392.56" y1="505.4" x2="392.56" y2="549.2" class="w"/>
<line x1="388.76" y1="345.1" x2="396.36" y2="345.1" class="w"/>
<line x1="388.76" y1="549.2" x2="396.36" y2="549.2" class="w"/>
<rect x="386.41" y="428.9" width="12.3" height="76.5" fill="#e38e0b" class="b"/>
<line x1="386.41" y1="467.6" x2="398.71" y2="467.6" class="m"/>
<path d="M392.56 455L398.36 460.8L392.56 466.6L386.76 460.8Z" fill="#bb7808" class="d"/>
<line x1="419.94" y1="434.4" x2="419.94" y2="477" class="w"/>
<line x1="419.94" y1="511.1" x2="419.94" y2="550.2" class="w"/>
<line x1="416.14" y1="434.4" x2="423.74" y2="434.4" class="w"/>
<line x1="416.14" y1="550.2" x2="423.74" y2="550.2" class="w"/>
<rect x="413.79" y="477" width="12.3" height="34.1" fill="#0a71b5" class="b"/>
<line x1="413.79" y1="494.7" x2="426.09" y2="494.7" class="m"/>
<path d="M419.94 485.5L425.74 491.3L419.94 497.1L414.14 491.3Z" fill="#07609c" class="d"/>
<circle cx="419.94" cy="367.8" r="3.95" class="o"/>
<line x1="435.29" y1="432.8" x2="435.29" y2="479.6" class="w"/>
<line x1="435.29" y1="514.9" x2="435.29" y2="553.9" class="w"/>
<line x1="431.49" y1="432.8" x2="439.09" y2="432.8" class="w"/>
<line x1="431.49" y1="553.9" x2="439.09" y2="553.9" class="w"/>
<rect x="429.14" y="479.6" width="12.3" height="35.3" fill="#e38e0b" class="b"/>
<line x1="429.14" y1="495.3" x2="441.44" y2="495.3" class="m"/>
<path d="M435.29 485.1L441.09 490.9L435.29 496.7L429.49 490.9Z" fill="#bb7808" class="d"/>
<circle cx="435.29" cy="363.5" r="3.95" class="o"/>
<circle cx="435.29" cy="364.1" r="3.95" class="o"/>
<circle cx="435.29" cy="364.7" r="3.95" class="o"/>
<circle cx="435.29" cy="365.2" r="3.95" class="o"/>
<circle cx="435.29" cy="572.7" r="3.95" class="o"/>
<line x1="462.67" y1="422.1" x2="462.67" y2="475.2" class="w"/>
<line x1="462.67" y1="520.2" x2="462.67" y2="563.4" class="w"/>
<line x1="458.87" y1="422.1" x2="466.47" y2="422.1" class="w"/>
<line x1="458.87" y1="563.4" x2="466.47" y2="563.4" class="w"/>
<rect x="456.52" y="475.2" width="12.3" height="45" fill="#0a71b5" class="b"/>
<line x1="456.52" y1="504.2" x2="468.82" y2="504.2" class="m"/>
<path d="M462.67 492.2L468.47 498L462.67 503.8L456.87 498Z" fill="#07609c" class="d"/>
<line x1="478.02" y1="437.4" x2="478.02" y2="484.6" class="w"/>
<line x1="478.02" y1="517.1" x2="478.02" y2="559.7" class="w"/>
<line x1="474.22" y1="437.4" x2="481.82" y2="437.4" class="w"/>
<line x1="474.22" y1="559.7" x2="481.82" y2="559.7" class="w"/>
<rect x="471.87" y="484.6" width="12.3" height="32.5" fill="#e38e0b" class="b"/>
<line x1="471.87" y1="508.9" x2="484.17" y2="508.9" class="m"/>
<path d="M478.02 490.9L483.82 496.7L478.02 502.5L472.22 496.7Z" fill="#bb7808" class="d"/>
<circle cx="478.02" cy="414" r="3.95" class="o"/>
<circle cx="478.02" cy="431.6" r="3.95" class="o"/>
<line x1="505.4" y1="375" x2="505.4" y2="414.8" class="w"/>
<line x1="505.4" y1="487.3" x2="505.4" y2="548.2" class="w"/>
<line x1="501.6" y1="375" x2="509.2" y2="375" class="w"/>
<line x1="501.6" y1="548.2" x2="509.2" y2="548.2" class="w"/>
<rect x="499.25" y="414.8" width="12.3" height="72.5" fill="#0a71b5" class="b"/>
<line x1="499.25" y1="465.3" x2="511.55" y2="465.3" class="m"/>
<path d="M505.4 451.4L511.2 457.2L505.4 463L499.6 457.2Z" fill="#07609c" class="d"/>
<line x1="520.75" y1="357.9" x2="520.75" y2="437.2" class="w"/>
<line x1="520.75" y1="492.3" x2="520.75" y2="552.5" class="w"/>
<line x1="516.95" y1="357.9" x2="524.55" y2="357.9" class="w"/>
<line x1="516.95" y1="552.5" x2="524.55" y2="552.5" class="w"/>
<rect x="514.6" y="437.2" width="12.3" height="55.1" fill="#e38e0b" class="b"/>
<line x1="514.6" y1="473" x2="526.9" y2="473" class="m"/>
<path d="M520.75 458L526.55 463.8L520.75 469.6L514.95 463.8Z" fill="#bb7808" class="d"/>
<line x1="548.13" y1="367.1" x2="548.13" y2="432.6" class="w"/>
<line x1="548.13" y1="506.8" x2="548.13" y2="605.1" class="w"/>
<line x1="544.33" y1="367.1" x2="551.93" y2="367.1" class="w"/>
<line x1="544.33" y1="605.1" x2="551.93" y2="605.1" class="w"/>
<rect x="541.98" y="432.6" width="12.3" height="74.2" fill="#0a71b5" class="b"/>
<line x1="541.98" y1="463.4" x2="554.28" y2="463.4" class="m"/>
<path d="M548.13 462.6L553.93 468.4L548.13 474.2L542.33 468.4Z" fill="#07609c" class="d"/>
<line x1="563.48" y1="361.3" x2="563.48" y2="444.5" class="w"/>
<line x1="563.48" y1="510.1" x2="563.48" y2="559.9" class="w"/>
<line x1="559.68" y1="361.3" x2="567.28" y2="361.3" class="w"/>
<line x1="559.68" y1="559.9" x2="567.28" y2="559.9" class="w"/>
<rect x="557.33" y="444.5" width="12.3" height="65.6" fill="#e38e0b" class="b"/>
<line x1="557.33" y1="480.2" x2="569.63" y2="480.2" class="m"/>
<path d="M563.48 471.7L569.28 477.5L563.48 483.3L557.68 477.5Z" fill="#bb7808" class="d"/>
<circle cx="563.48" cy="631.3" r="3.95" class="o"/>
<line x1="590.86" y1="398.6" x2="590.86" y2="453.6" class="w"/>
<line x1="590.86" y1="500.4" x2="590.86" y2="544.2" class="w"/>
<line x1="587.06" y1="398.6" x2="594.66" y2="398.6" class="w"/>
<line x1="587.06" y1="544.2" x2="594.66" y2="544.2" class="w"/>
<rect x="584.71" y="453.6" width="12.3" height="46.8" fill="#0a71b5" class="b"/>
<line x1="584.71" y1="474" x2="597.01" y2="474" class="m"/>
<path d="M590.86 466.2L596.66 472L590.86 477.8L585.06 472Z" fill="#07609c" class="d"/>
<circle cx="590.86" cy="359.5" r="3.95" class="o"/>
<circle cx="590.86" cy="378.1" r="3.95" class="o"/>
<line x1="606.21" y1="389.8" x2="606.21" y2="460.2" class="w"/>
<line x1="606.21" y1="511.1" x2="606.21" y2="552.5" class="w"/>
<line x1="602.41" y1="389.8" x2="610.01" y2="389.8" class="w"/>
<line x1="602.41" y1="552.5" x2="610.01" y2="552.5" class="w"/>
<rect x="600.06" y="460.2" width="12.3" height="50.9" fill="#e38e0b" class="b"/>
<line x1="600.06" y1="476.8" x2="612.36" y2="476.8" class="m"/>
<path d="M606.21 473.2L612.01 479L606.21 484.8L600.41 479Z" fill="#bb7808" class="d"/>
<circle cx="606.21" cy="351.8" r="3.95" class="o"/>
<circle cx="606.21" cy="364.9" r="3.95" class="o"/>
<line x1="633.59" y1="402.3" x2="633.59" y2="439.6" class="w"/>
<line x1="633.59" y1="475.2" x2="633.59" y2="492.3" class="w"/>
<line x1="629.79" y1="402.3" x2="637.39" y2="402.3" class="w"/>
<line x1="629.79" y1="492.3" x2="637.39" y2="492.3" class="w"/>
<rect x="627.44" y="439.6" width="12.3" height="35.6" fill="#0a71b5" class="b"/>
<line x1="627.44" y1="457.6" x2="639.74" y2="457.6" class="m"/>
<path d="M633.59 446.3L639.39 452.1L633.59 457.9L627.79 452.1Z" fill="#07609c" class="d"/>
<circle cx="633.59" cy="368.5" r="3.95" class="o"/>
<circle cx="633.59" cy="373.9" r="3.95" class="o"/>
<line x1="648.94" y1="423.1" x2="648.94" y2="446.7" class="w"/>
<line x1="648.94" y1="474.2" x2="648.94" y2="495.5" class="w"/>
<line x1="645.14" y1="423.1" x2="652.74" y2="423.1" class="w"/>
<line x1="645.14" y1="495.5" x2="652.74" y2="495.5" class="w"/>
<rect x="642.79" y="446.7" width="12.3" height="27.5" fill="#e38e0b" class="b"/>
<line x1="642.79" y1="460.8" x2="655.09" y2="460.8" class="m"/>
<path d="M648.94 453L654.74 458.8L648.94 464.6L643.14 458.8Z" fill="#bb7808" class="d"/>
<circle cx="648.94" cy="367.4" r="3.95" class="o"/>
<circle cx="648.94" cy="393.8" r="3.95" class="o"/>
<circle cx="648.94" cy="525.6" r="3.95" class="o"/>
<text transform="translate(9.3,175.4) rotate(-90)" class="yl" textLength="145.5" lengthAdjust="spacingAndGlyphs">C-Index improvement (%)</text>
<text transform="translate(9.3,488.4) rotate(-90)" class="yl" textLength="142.8" lengthAdjust="spacingAndGlyphs">AUROC improvement (%)</text>
<rect x="146.1" y="3" width="12.2" height="7" fill="#0a71b5" class="b"/>
<text x="164.6" y="9.6" class="lg" textLength="175" lengthAdjust="spacingAndGlyphs">SleepFM versus Demographics</text>
<rect x="352.7" y="3" width="12.2" height="7" fill="#e38e0b" class="b"/>
<text x="371.1" y="9.6" class="lg" textLength="183" lengthAdjust="spacingAndGlyphs">SleepFM versus End-to-End PSG</text>
<path d="M571.75 1.05L576.65 5.65L571.75 10.25L566.85 5.65Z" fill="none" stroke="#000" stroke-width="1.45"/>
<text x="583.2" y="9.6" class="lg" textLength="31" lengthAdjust="spacingAndGlyphs">Mean</text>
</svg>
</body></html>
